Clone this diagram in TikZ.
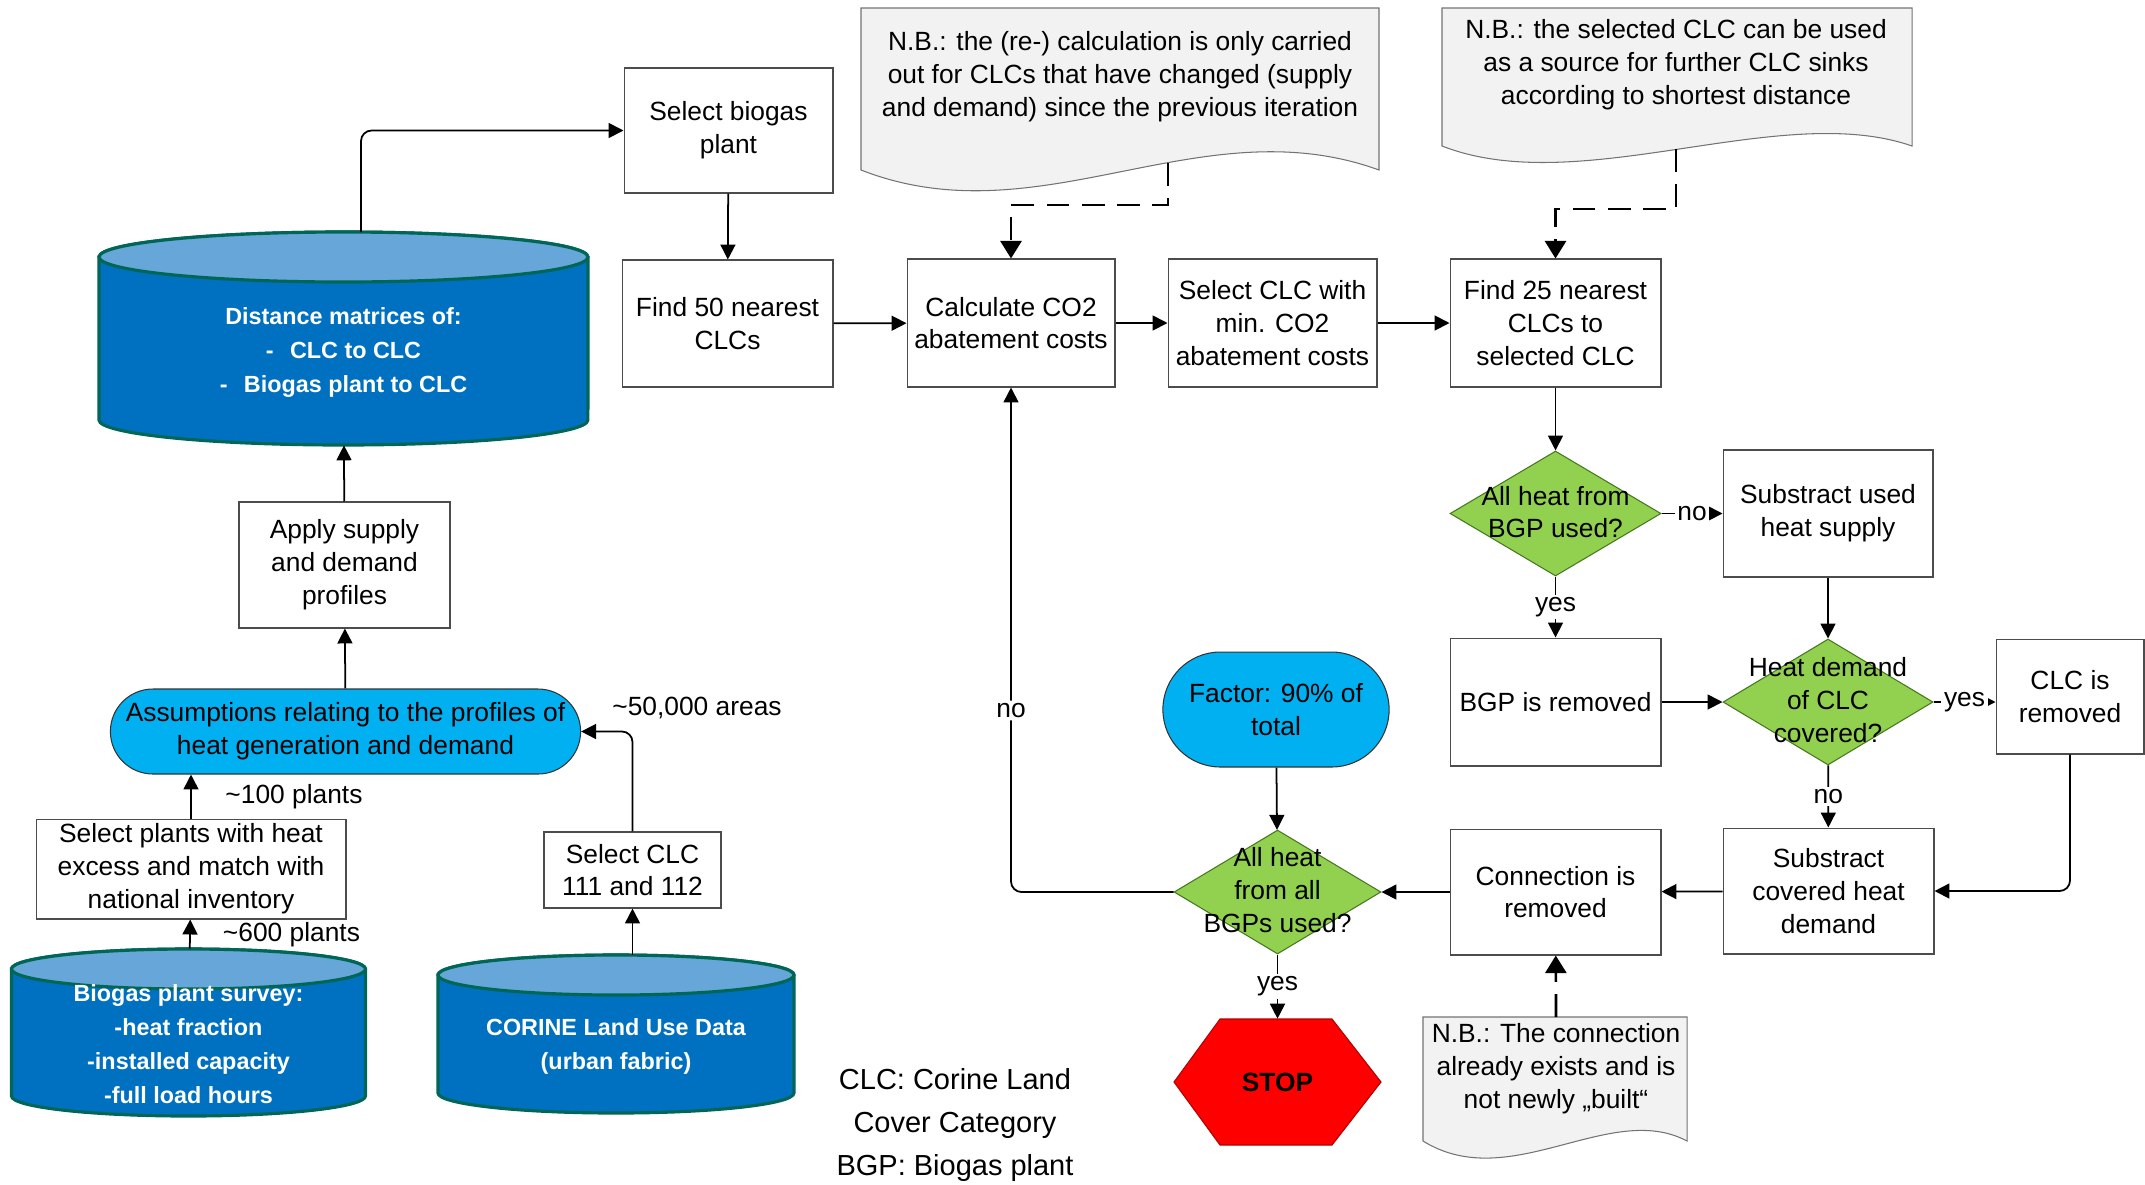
\documentclass[tikz,border=0pt]{standalone}
\usepackage{fontspec}
\setmainfont{Liberation Sans}
\usetikzlibrary{arrows.meta,shapes.geometric,shapes.misc}

\definecolor{dbblue}{RGB}{0,112,192}
\definecolor{dbcapblue}{RGB}{102,166,216}
\definecolor{dbline}{RGB}{0,102,86}
\definecolor{termblue}{RGB}{0,176,240}
\definecolor{decgreen}{RGB}{146,208,80}
\definecolor{decline}{RGB}{70,120,30}
\definecolor{notegray}{RGB}{242,242,242}
\definecolor{stopred}{RGB}{255,0,0}

\tikzset{
  process/.style={draw=black!70, line width=0.6pt, fill=white, align=center,
    minimum width=4.22cm, minimum height=2.54cm, inner sep=2pt},
  decision/.style={diamond, draw=decline, line width=0.6pt, fill=decgreen, inner sep=0pt},
  terminal/.style={rounded rectangle, draw=black!80, line width=0.6pt, fill=termblue, align=center},
  notebox/.style={draw=black!55, line width=0.6pt, fill=notegray},
  notetext/.style={align=center},
  dbbody/.style={draw=dbline, line width=1.8pt, fill=dbblue},
  dbcap/.style={draw=dbline, line width=1.8pt, fill=dbcapblue},
  dbtext/.style={text=white, font=\fontsize{13.3}{19.4}\selectfont\bfseries, align=center},
  edgelabel/.style={fill=white, inner sep=1.5pt},
  conn/.style={-{Triangle[length=8.5pt,width=8.5pt]}, line width=1pt},
  noteconn/.style={-{Triangle[length=10pt,width=12pt]}, dash pattern=on 13pt off 7pt, line width=1.5pt},
}

\begin{document}
\begin{tikzpicture}[x=0.02cm, y=-0.02cm, font=\fontsize{15}{18.7}\selectfont]
  \useasboundingbox (0,0) rectangle (2145,1184);

  % data stores
  \draw[dbbody] (99,257) -- (99,420) arc[start angle=180, end angle=360, x radius=4.89cm, y radius=0.5cm]
    -- (588,257) arc[start angle=0, end angle=180, x radius=4.89cm, y radius=0.5cm] -- cycle;
  \draw[dbcap] (343.5,257) ellipse [x radius=4.89cm, y radius=0.5cm];
  \draw[dbbody] (11.5,969) -- (11.5,1096) arc[start angle=180, end angle=360, x radius=3.54cm, y radius=0.4cm]
    -- (365.5,969) arc[start angle=0, end angle=180, x radius=3.54cm, y radius=0.4cm] -- cycle;
  \draw[dbcap] (188.5,969) ellipse [x radius=3.54cm, y radius=0.4cm];
  \draw[dbbody] (438,975) -- (438,1093) arc[start angle=180, end angle=360, x radius=3.56cm, y radius=0.4cm]
    -- (794,975) arc[start angle=0, end angle=180, x radius=3.56cm, y radius=0.4cm] -- cycle;
  \draw[dbcap] (616,975) ellipse [x radius=3.56cm, y radius=0.4cm];

  \node[minimum width=9.78cm, minimum height=4.26cm] (dist) at (343.5,338.5) {};
  \node[minimum width=7.08cm, minimum height=3.34cm] (survey) at (188.5,1032.5) {};
  \node[minimum width=7.12cm, minimum height=3.16cm] (corine) at (616,1034) {};
  \node[dbtext] (disttext) at (343.5,352.5)
    {Distance matrices of:\\-\hspace{0.7em}CLC to CLC\\-\hspace{0.7em}Biogas plant to CLC};
  \node[dbtext] (surveytext) at (188.5,1044)
    {Biogas plant survey:\\-heat fraction\\-installed capacity\\-full load hours};
  \node[dbtext] (corinetext) at (616,1046) {CORINE Land Use Data\\(urban fabric)};

  % notes
  \draw[notebox] (861,170) -- (861,8) -- (1379,8) -- (1379,170)
    .. controls (1200,105) and (1040,240) .. (861,170) -- cycle;
  \draw[notebox] (1442,146) -- (1442,8) -- (1912,8) -- (1912,146)
    .. controls (1780,100) and (1580,200) .. (1442,146) -- cycle;
  \draw[notebox] (1423,1141) -- (1423,1017) -- (1687,1017) -- (1687,1141)
    .. controls (1610,1100) and (1510,1195) .. (1423,1141) -- cycle;
  \node[notetext] (nb1) at (1120,77)
    {N.B.: the (re-) calculation is only carried\\out for CLCs that have changed (supply\\and demand) since the previous iteration};
  \node[notetext] (nb2) at (1676,65)
    {N.B.: the selected CLC can be used\\as a source for further CLC sinks\\according to shortest distance};
  \node[notetext] (nb3) at (1556,1069)
    {N.B.: The connection\\already exists and is\\not newly „built“};
  \coordinate (nb1foot) at (1168,163);
  \coordinate (nb2foot) at (1676,149);
  \coordinate (nb3top) at (1556,1017);
  \coordinate (distout) at (361,232);

  % left column
  \node[process, minimum width=4.22cm, minimum height=2.52cm] (apply) at (344.5,565)
    {Apply supply\\and demand\\profiles};
  \node[terminal, minimum width=9.64cm, minimum height=1.7cm] (assum) at (345.5,731.5)
    {Assumptions relating to the profiles of\\heat generation and demand};
  \node[process, minimum width=6.2cm, minimum height=2cm] (selplants) at (191,869)
    {Select plants with heat\\excess and match with\\national inventory};
  \node[process, minimum width=3.54cm, minimum height=1.52cm] (selclc) at (632.5,870)
    {Select CLC\\111 and 112};
  \node (areas) at (697,708) {\textasciitilde50,000 areas};
  \node (plants100) at (294,797) {\textasciitilde100 plants};
  \node (plants600) at (291.5,935) {\textasciitilde600 plants};

  % main loop
  \node[process, minimum width=4.18cm, minimum height=2.5cm] (selbgp) at (728.5,130.5) {Select biogas\\plant};
  \node[process] (find50) at (727.5,323.5) {Find 50 nearest\\CLCs};
  \node[process, minimum width=4.16cm, minimum height=2.56cm] (calc) at (1011,323) {Calculate CO2\\abatement costs};
  \node[process, minimum width=4.18cm, minimum height=2.56cm] (selmin) at (1272.5,323)
    {Select CLC with\\min. CO2\\abatement costs};
  \node[process, minimum height=2.56cm] (find25) at (1555.5,323) {Find 25 nearest\\CLCs to\\selected CLC};
  \node[decision, minimum width=4.22cm, minimum height=2.5cm] (d1) at (1555.5,513.5) {};
  \node[align=center] (d1text) at (1555.5,512) {All heat from\\BGP used?};
  \node[process, minimum width=4.2cm] (subused) at (1828,513.5) {Substract used\\heat supply};
  \node[process, minimum height=2.56cm] (bgprem) at (1555.5,702) {BGP is removed};
  \node[decision, minimum width=4.2cm, minimum height=2.52cm] (d2) at (1828,702) {};
  \node[align=center] (d2text) at (1828,700) {Heat demand\\of CLC\\covered?};
  \node[process, minimum width=2.96cm, minimum height=2.3cm] (clcrem) at (2070,696.5) {CLC is\\removed};
  \node[process, minimum height=2.52cm] (subcov) at (1828.5,891) {Substract\\covered heat\\demand};
  \node[process, minimum height=2.52cm] (conrem) at (1555.5,892) {Connection is\\removed};
  \node[decision, minimum width=4.14cm, minimum height=2.48cm] (d3) at (1277.5,892) {};
  \node[align=center] (d3text) at (1277.5,890) {All heat\\from all\\BGPs used?};
  \node[terminal, minimum width=4.76cm, minimum height=2.3cm] (factor) at (1276,709.5) {Factor: 90\% of\\total};
  \draw[fill=stopred, draw=red!70!black, line width=0.6pt] (1174,1082) -- (1220,1019) -- (1332,1019)
    -- (1381,1082) -- (1332,1145) -- (1220,1145) -- cycle;
  \node[font=\fontsize{15}{18}\selectfont\bfseries, minimum width=4.14cm, minimum height=2.52cm] (stop)
    at (1277.5,1082) {STOP};

  \node[align=center, font=\fontsize{16.5}{24.7}\selectfont] (legend) at (955,1125)
    {CLC: Corine Land\\Cover Category\\BGP: Biogas plant};

  % connectors
  \draw[conn, rounded corners=6pt] (distout) |- (selbgp);
  \draw[conn] (apply) -- (dist);
  \draw[conn] (assum) -- (apply);
  \draw[conn] (selplants) -- (selplants |- assum.south);
  \draw[conn] (survey) -- (selplants);
  \draw[conn, rounded corners=6pt] (selclc) |- (assum);
  \draw[conn] (selclc |- corine.north) -- (selclc);
  \draw[conn] (selbgp) -- (find50);
  \draw[conn] (find50) -- (calc);
  \draw[conn] (calc) -- (selmin);
  \draw[conn] (selmin) -- (find25);
  \draw[noteconn] (nb1foot) -- ++(0,42) -| (calc);
  \draw[noteconn] (nb2foot) -- ++(0,60) -| (find25);
  \draw[conn] (find25) -- (d1);
  \draw[conn] (d1) -- node[edgelabel]{no} (subused);
  \draw[conn] (d1) -- node[edgelabel]{yes} (bgprem);
  \draw[conn] (subused) -- (d2);
  \draw[conn] (bgprem) -- (d2);
  \draw[conn] (d2.east) -- node[edgelabel]{yes} (d2.east -| clcrem.west);
  \draw[conn] (d2) -- node[edgelabel]{no} (subcov);
  \draw[conn, rounded corners=6pt] (clcrem) |- (subcov);
  \draw[conn] (subcov) -- (conrem);
  \draw[conn] (conrem) -- (d3);
  \draw[conn] (factor) -- (d3);
  \draw[conn] (d3) -- node[edgelabel]{yes} (stop);
  \draw[conn, rounded corners=6pt] (d3) -| node[edgelabel, pos=0.68]{no} (calc);
  \draw[noteconn] (nb3top) -- (conrem);
\end{tikzpicture}
\end{document}
